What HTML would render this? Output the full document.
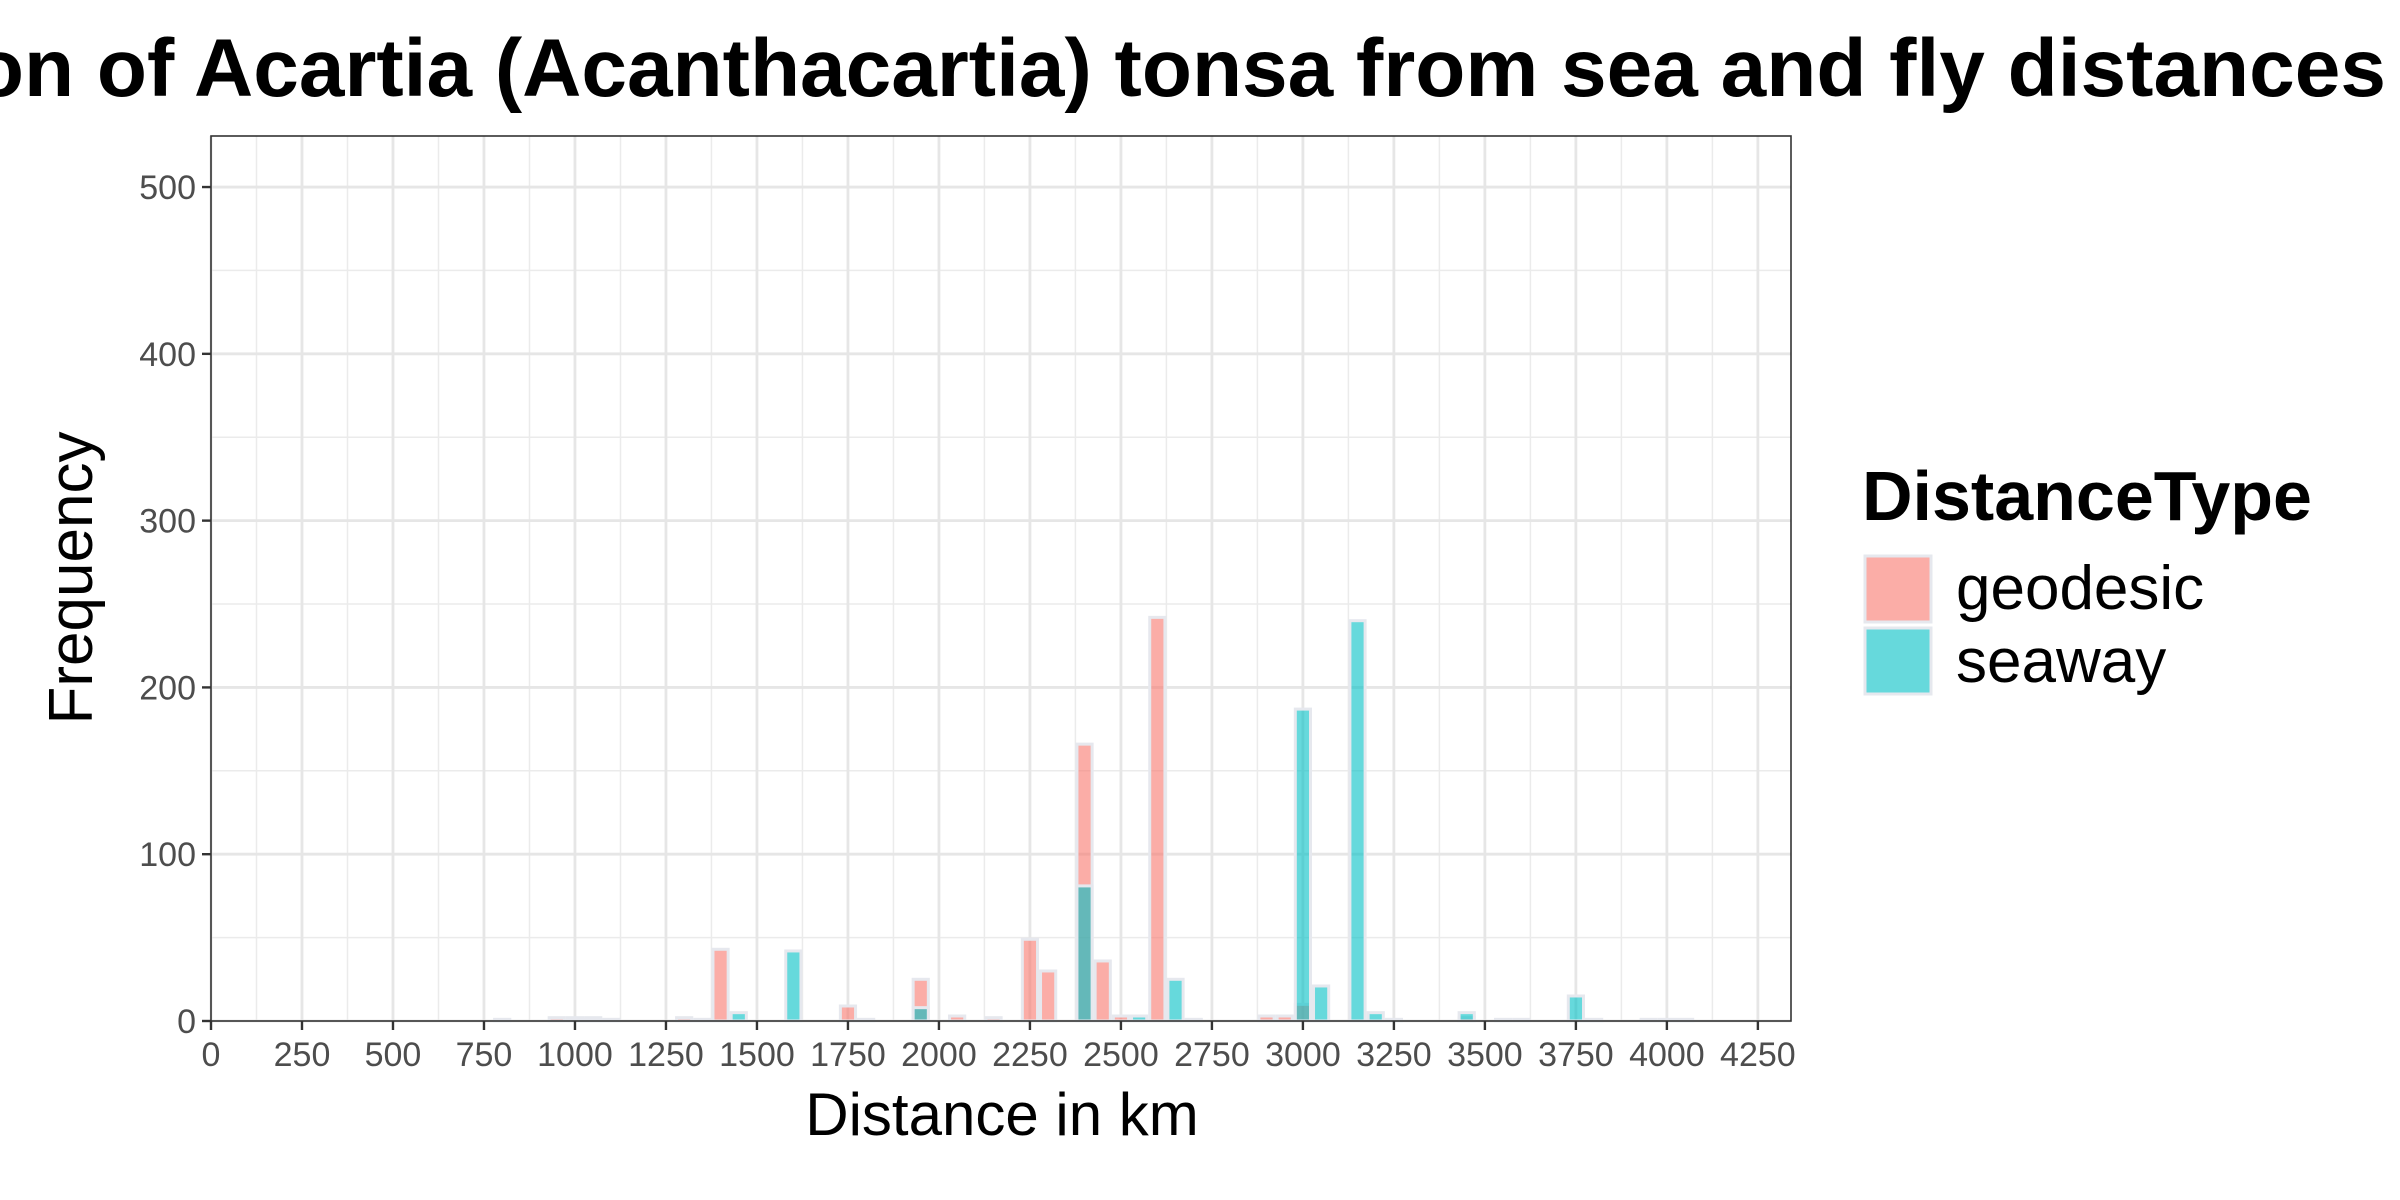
<!DOCTYPE html>
<html><head><meta charset="utf-8"><style>
html,body{margin:0;padding:0;background:#fff;}
svg{display:block;font-family:"Liberation Sans","DejaVu Sans",sans-serif;}
</style></head><body>
<svg id="chart" width="2400" height="1200" viewBox="0 0 2400 1200" xmlns="http://www.w3.org/2000/svg">
<text x="1000" y="96" font-size="82" font-weight="bold" text-anchor="middle" fill="#000">Distribution of Acartia (Acanthacartia) tonsa from sea and fly distances</text>
<rect x="211" y="136" width="1580" height="885" fill="#fff"/>
<g id="grid"></g>
<g id="bars"></g>
<rect x="211" y="136" width="1580" height="885" fill="none" stroke="#333" stroke-width="1.6"/>
<g id="axes"></g>
<text x="1002" y="1135" font-size="60" text-anchor="middle" fill="#000">Distance in km</text>
<text transform="translate(92,578) rotate(-90)" font-size="62" text-anchor="middle" fill="#000">Frequency</text>
<g>
<text x="1862" y="520" font-size="70" font-weight="bold" fill="#000">DistanceType</text>
<rect x="1865" y="556" width="66" height="66" fill="rgba(248,118,109,0.6)" stroke="#e6e8ee" stroke-width="3"/>
<rect x="1865" y="628" width="66" height="66" fill="rgba(0,191,196,0.6)" stroke="#e6e8ee" stroke-width="3"/>
<text x="1956" y="609" font-size="62" fill="#000">geodesic</text>
<text x="1956" y="682" font-size="62" fill="#000">seaway</text>
</g>
</svg>
<script>
const geodesicBins = [800,950,1000,1050,1100,1300,1350,1400,1750,1800,1950,2050,2150,2250,2300,2400,2450,2500,2600,2700,2900,2950,3000,3450,3600,3950,4000];
const geodesicCounts = [1,2,2,2,1,2,1,43,9,1,25,3,2,49,30,166,36,3,242,1,3,3,10,2,1,1,1];
const seawayBins = [1000,1050,1450,1600,1950,2400,2550,2650,3000,3050,3150,3200,3250,3450,3550,3750,3800,4050];
const seawayCounts = [1,1,5,42,8,81,3,25,187,21,240,5,1,5,1,15,1,1];
const xTicks = [0,250,500,750,1000,1250,1500,1750,2000,2250,2500,2750,3000,3250,3500,3750,4000,4250];
const yTicks = [0,100,200,300,400,500];
const binWidth = 50;

const NS = "http://www.w3.org/2000/svg";
const X0 = 211, X1 = 1791, Y0 = 1021, Y1 = 136;
const xMin = 0, xMax = 4341, yMin = 0, yMax = 530.6;
function xs(v){ return X0 + (v - xMin) / (xMax - xMin) * (X1 - X0); }
function ys(v){ return Y0 - (v - yMin) / (yMax - yMin) * (Y0 - Y1); }
function mk(tag, attrs, parent){
  const e = document.createElementNS(NS, tag);
  for (const k in attrs) e.setAttribute(k, attrs[k]);
  parent.appendChild(e);
  return e;
}
const grid = document.getElementById('grid');
for (let v = 125; v < xMax; v += 250){
  const l = mk('line', {x1: xs(v), x2: xs(v), y1: Y1, y2: Y0, stroke: '#ebebeb', 'stroke-width': 1.5}, grid);
  
  
}
for (let v = 50; v < yMax; v += 100){
  const l = mk('line', {x1: X0, x2: X1, y1: ys(v), y2: ys(v), stroke: '#ebebeb', 'stroke-width': 1.5}, grid);
  
  
}
xTicks.forEach(v => {
  const l = mk('line', {x1: xs(v), x2: xs(v), y1: Y1, y2: Y0, stroke: '#e6e6e6', 'stroke-width': 2.8}, grid);
  
  
});
yTicks.forEach(v => {
  const l = mk('line', {x1: X0, x2: X1, y1: ys(v), y2: ys(v), stroke: '#e6e6e6', 'stroke-width': 2.8}, grid);
  
  
});
const bars = document.getElementById('bars');
function drawSeries(bins, counts, fill, name){
  bins.forEach((b, i) => {
    const xl = xs(b - binWidth / 2), xr = xs(b + binWidth / 2);
    const yt = ys(counts[i]);
    const r = mk('rect', {x: xl + 1.5, y: yt, width: xr - xl - 3, height: Y0 - yt, fill: fill, stroke: '#e6e8ee', 'stroke-width': 3}, bars);
    
    
  });
}
drawSeries(geodesicBins, geodesicCounts, 'rgba(248,118,109,0.6)', 'geodesic');
drawSeries(seawayBins, seawayCounts, 'rgba(0,191,196,0.6)', 'seaway');
const axes = document.getElementById('axes');
xTicks.forEach(v => {
  const t = mk('line', {x1: xs(v), x2: xs(v), y1: Y0, y2: Y0 + 9, stroke: '#333', 'stroke-width': 2.4}, axes);
  
  
  const tx = mk('text', {x: xs(v), y: Y0 + 45, 'font-size': 34, 'text-anchor': 'middle', fill: '#4d4d4d'}, axes);
  tx.textContent = v;
  
  
});
yTicks.forEach(v => {
  const t = mk('line', {x1: X0 - 9, x2: X0, y1: ys(v), y2: ys(v), stroke: '#333', 'stroke-width': 2.4}, axes);
  
  
  const tx = mk('text', {x: X0 - 15, y: ys(v) + 12, 'font-size': 34, 'text-anchor': 'end', fill: '#4d4d4d'}, axes);
  tx.textContent = v;
  
  
});
</script>
</body></html>
